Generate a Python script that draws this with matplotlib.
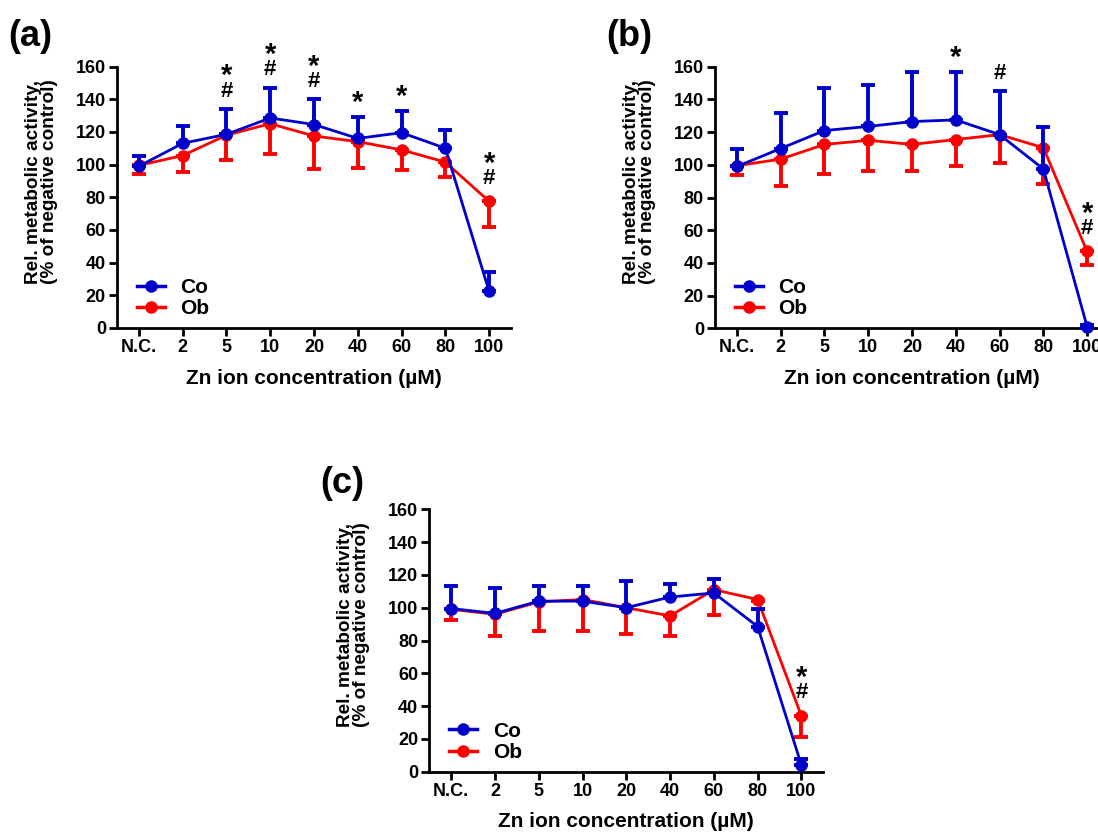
import matplotlib
matplotlib.use("Agg")
import matplotlib.pyplot as plt
from matplotlib.lines import Line2D

plt.rcParams['font.family'] = ['Liberation Sans', 'DejaVu Sans']
plt.rcParams['font.weight'] = 'bold'

categories = ["N.C.", "2", "5", "10", "20", "40", "60", "80", "100"]

# Panel (a)
a_co = [99, 113, 118.5, 128.5, 124.5, 116, 119.5, 110, 22.5]
a_co_err = [6.5, 10.5, 15.5, 18.5, 15.5, 13, 13.5, 11, 11.5]
a_ob = [99.5, 105.5, 118, 125, 117.5, 114, 109, 101.5, 77.5]
a_ob_err = [5.5, 10, 15.5, 18.5, 20.5, 16, 12.5, 9, 15.5]
a_star = [0, 0, 1, 1, 1, 1, 1, 0, 1]
a_hash = [0, 0, 1, 1, 1, 0, 0, 0, 1]

# Panel (b)
b_co = [99, 110, 121, 123.5, 126.5, 127.5, 118.5, 97.5, 1]
b_co_err = [10.5, 21.5, 26, 25.5, 30.5, 29.5, 26.5, 25.5, 1]
b_ob = [99.5, 103.5, 112.5, 115, 112.5, 115.5, 118.5, 110.5, 47]
b_ob_err = [5.5, 16.5, 18, 19, 16.5, 16, 17.5, 22.5, 8]
b_star = [0, 0, 0, 0, 0, 1, 0, 0, 1]
b_hash = [0, 0, 0, 0, 0, 0, 1, 0, 1]

# Panel (c)
c_co = [99.5, 96.5, 104, 104, 100, 106.5, 109, 88.5, 4]
c_co_err = [13.5, 15.5, 9, 9.5, 16, 8, 8.5, 10.5, 3.5]
c_ob = [99, 96, 103.5, 105, 100, 95, 111, 105, 34]
c_ob_err = [6.5, 13.5, 17.5, 19, 16, 12, 15.5, 1, 13]
c_star = [0, 0, 0, 0, 0, 0, 0, 0, 1]
c_hash = [0, 0, 0, 0, 0, 0, 0, 0, 1]

BLUE = "#0000CC"
RED = "#FF0000"

W, H = 1098, 834
fig = plt.figure(figsize=(W / 100, H / 100), dpi=100)


def panel(rect, label, label_xy, co, co_err, ob, ob_err, star, hsh):
    ax = fig.add_axes(rect)
    x = list(range(len(categories)))
    zeros = [0] * len(x)
    ax.errorbar(x, ob, yerr=[ob_err, zeros], color=RED, marker='o', ms=8,
                lw=2, elinewidth=2.8, capsize=5, capthick=2.8,
                clip_on=False, zorder=3)
    ax.errorbar(x, co, yerr=[zeros, co_err], color=BLUE, marker='o', ms=8,
                lw=2, elinewidth=2.8, capsize=5, capthick=2.8,
                clip_on=False, zorder=4)
    for i in x:
        anchor = max(co[i] + co_err[i], ob[i] + 3, co[i] + 3)
        y1 = anchor + 11
        y2 = y1 + 11.5
        if star[i] and hsh[i]:
            ax.text(i, y1, '#', ha='center', va='center', fontsize=16, fontweight='bold')
            ax.text(i, y2 - 2.5, '*', ha='center', va='center', fontsize=21, fontweight='bold')
        elif star[i]:
            ax.text(i, y1 - 2.5, '*', ha='center', va='center', fontsize=21, fontweight='bold')
        elif hsh[i]:
            ax.text(i, y1, '#', ha='center', va='center', fontsize=16, fontweight='bold')
    ax.set_xlim(-0.5, 8.5)
    ax.set_ylim(0, 160)
    ax.set_yticks(range(0, 161, 20))
    ax.set_xticks(x)
    ax.set_xticklabels(categories)
    for s in ['top', 'right']:
        ax.spines[s].set_visible(False)
    for s in ['left', 'bottom']:
        ax.spines[s].set_linewidth(2)
    ax.tick_params(axis='both', direction='out', length=6, width=2,
                   labelsize=13, pad=2)
    for t in ax.get_xticklabels() + ax.get_yticklabels():
        t.set_fontweight('bold')
    ax.set_xlabel('Zn ion concentration (\u00b5M)', fontsize=15,
                  fontweight='bold', labelpad=9)
    ax.set_ylabel('Rel. metabolic activity,\n(% of negative control)',
                  fontsize=13.7, fontweight='bold', linespacing=0.95)
    ax.yaxis.set_label_coords(-0.15, 0.56)
    handles = [Line2D([], [], color=BLUE, marker='o', ms=8, lw=2.5),
               Line2D([], [], color=RED, marker='o', ms=8, lw=2.5)]
    ax.legend(handles, ['Co', 'Ob'], loc='lower left', bbox_to_anchor=(0.013, -0.018),
              frameon=False, handlelength=1.35, handletextpad=0.75,
              labelspacing=0.1, borderaxespad=0.3,
              prop={'weight': 'bold', 'size': 15})
    fig.text(label_xy[0] / W, 1 - label_xy[1] / H, label, fontsize=26,
             fontweight='bold', ha='left', va='center')
    return ax


axw = 394 / W
axh = 261.5 / H
panel([117 / W, 1 - 328 / H, axw, axh], '(a)', (8, 36),
      a_co, a_co_err, a_ob, a_ob_err, a_star, a_hash)
panel([715 / W, 1 - 328.3 / H, axw, axh], '(b)', (606, 36),
      b_co, b_co_err, b_ob, b_ob_err, b_star, b_hash)
panel([429.3 / W, 1 - 771.7 / H, axw, 262.4 / H], '(c)', (320, 484),
      c_co, c_co_err, c_ob, c_ob_err, c_star, c_hash)

fig.savefig('out.png', dpi=100)
